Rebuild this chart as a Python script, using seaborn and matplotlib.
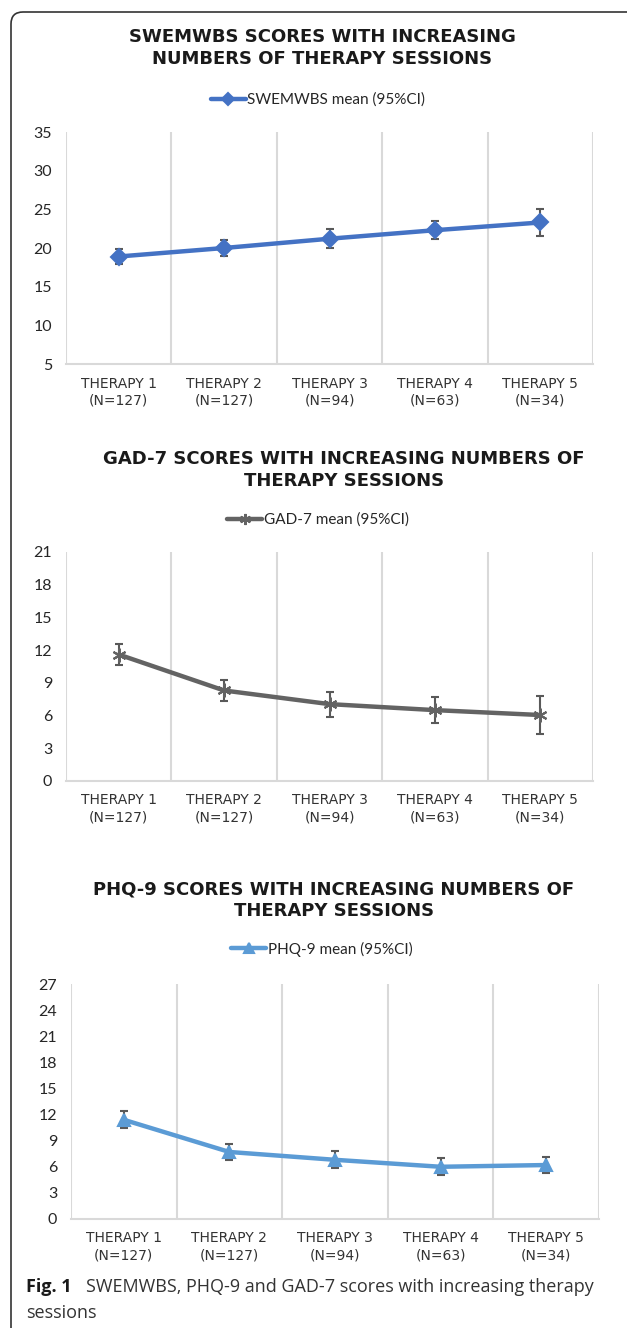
import numpy as np
import pandas as pd
import seaborn as sns
import matplotlib.pyplot as plt
from matplotlib.patches import FancyBboxPatch
from matplotlib.transforms import IdentityTransform

# Data
sessions = ["THERAPY 1\n(N=127)", "THERAPY 2\n(N=127)", "THERAPY 3\n(N=94)",
            "THERAPY 4\n(N=63)", "THERAPY 5\n(N=34)"]

swemwbs_mean = [18.9, 20.0, 21.2, 22.3, 23.3]
swemwbs_ci = [1.0, 1.0, 1.2, 1.15, 1.7]

gad7_mean = [11.6, 8.3, 7.05, 6.5, 6.05]
gad7_ci = [1.0, 1.0, 1.15, 1.2, 1.7]

phq9_mean = [11.4, 7.7, 6.8, 6.0, 6.2]
phq9_ci = [0.97, 0.97, 0.98, 0.96, 0.96]

titles = ["SWEMWBS SCORES WITH INCREASING\nNUMBERS OF THERAPY SESSIONS",
          "GAD-7 SCORES WITH INCREASING NUMBERS OF\nTHERAPY SESSIONS",
          "PHQ-9 SCORES WITH INCREASING NUMBERS OF\nTHERAPY SESSIONS"]
legend_labels = ["SWEMWBS mean (95%CI)", "GAD-7 mean (95%CI)", "PHQ-9 mean (95%CI)"]
y_limits = [(5, 35), (0, 21), (0, 27)]
y_steps = [5, 3, 3]
colors = ["#4472C4", "#636363", "#5B9BD5"]
markers = ["D", (6, 2, 0), "^"]
marker_sizes = [8, 10, 8.5]

sns.set_style("white")
plt.rcParams["font.family"] = ["Lato", "DejaVu Sans"]

W, H = 627, 1328
fig = plt.figure(figsize=(W / 100, H / 100), dpi=100)

# axes boxes in pixels: left, top, right, bottom
boxes = [(66, 132, 593, 364), (66, 552, 593, 781), (71, 984, 599, 1219)]
title_pos = [(322, 48), (344, 470), (334, 900)]
legend_pos = [(318, 100), (318, 520), (322, 949)]

panels = [(swemwbs_mean, swemwbs_ci), (gad7_mean, gad7_ci), (phq9_mean, phq9_ci)]

for i, (means, ci) in enumerate(panels):
    l, t, r, b = boxes[i]
    ax = fig.add_axes([l / W, 1 - b / H, (r - l) / W, (b - t) / H])
    df = pd.DataFrame({"session": sessions, "score": means})
    x = np.arange(len(sessions))

    ax.errorbar(x, means, yerr=ci, fmt="none", ecolor="#595959",
                elinewidth=1.5, capsize=3, capthick=1.5, zorder=2)
    sns.lineplot(data=df, x="session", y="score", ax=ax, color=colors[i],
                 linewidth=3.2, marker=markers[i], markersize=marker_sizes[i],
                 markeredgecolor=colors[i], markeredgewidth=1.5,
                 label=legend_labels[i], sort=False, zorder=3)

    ax.set_xlim(-0.5, len(sessions) - 0.5)
    ax.set_ylim(*y_limits[i])
    ax.set_yticks(np.arange(y_limits[i][0], y_limits[i][1] + 1, y_steps[i]))
    ax.set_xticks(x)
    ax.set_xticklabels(sessions, fontsize=10, family="DejaVu Sans",
                       color="#333333", linespacing=1.25)
    ax.set_xticks(np.arange(-0.5, len(sessions)), minor=True)
    ax.grid(which="minor", axis="x", color="#d9d9d9", linewidth=1.5)
    ax.grid(which="major", axis="both", visible=False)
    ax.tick_params(axis="both", which="both", length=0)
    ax.tick_params(axis="y", labelsize=11.5, labelcolor="#262626", pad=10)
    ax.tick_params(axis="x", pad=9)
    ax.set_xlabel("")
    ax.set_ylabel("")
    for s in ["top", "right", "left"]:
        ax.spines[s].set_visible(False)
    ax.spines["bottom"].set_color("#d9d9d9")
    ax.spines["bottom"].set_linewidth(1.5)

    handles, labels = ax.get_legend_handles_labels()
    lx, ly = legend_pos[i]
    ax.legend(handles, labels, loc="center", bbox_to_anchor=(lx / W, 1 - ly / H),
              bbox_transform=fig.transFigure, frameon=False, fontsize=11,
              handlelength=2.3, handletextpad=0.1, numpoints=1,
              labelcolor="#262626", markerscale=0.8)

    tx, ty = title_pos[i]
    fig.text(tx / W, 1 - ty / H, titles[i], ha="center", va="center",
             fontsize=13, fontweight="bold", color="#1a1a1a",
             family="DejaVu Sans", linespacing=1.25)

# outer frame with a rounded corner
frame = FancyBboxPatch((11, -40), 800, H - 12 + 40,
                       boxstyle="round,pad=0,rounding_size=12",
                       transform=IdentityTransform(), fill=False,
                       edgecolor="#333333", linewidth=1.2)
fig.add_artist(frame)

# caption
fig.text(26 / W, 1 - 1287 / H, "Fig. 1", fontsize=13, fontweight="bold",
         family=["Open Sans", "DejaVu Sans"], va="center", color="#1a1a1a")
fig.text(86 / W, 1 - 1287 / H, "SWEMWBS, PHQ-9 and GAD-7 scores with increasing therapy",
         fontsize=13, family=["Open Sans", "DejaVu Sans"], va="center", color="#333333")
fig.text(26 / W, 1 - 1313 / H, "sessions", fontsize=13,
         family=["Open Sans", "DejaVu Sans"], va="center", color="#333333")

fig.savefig("out.png", dpi=100)
print("Saved out.png")
